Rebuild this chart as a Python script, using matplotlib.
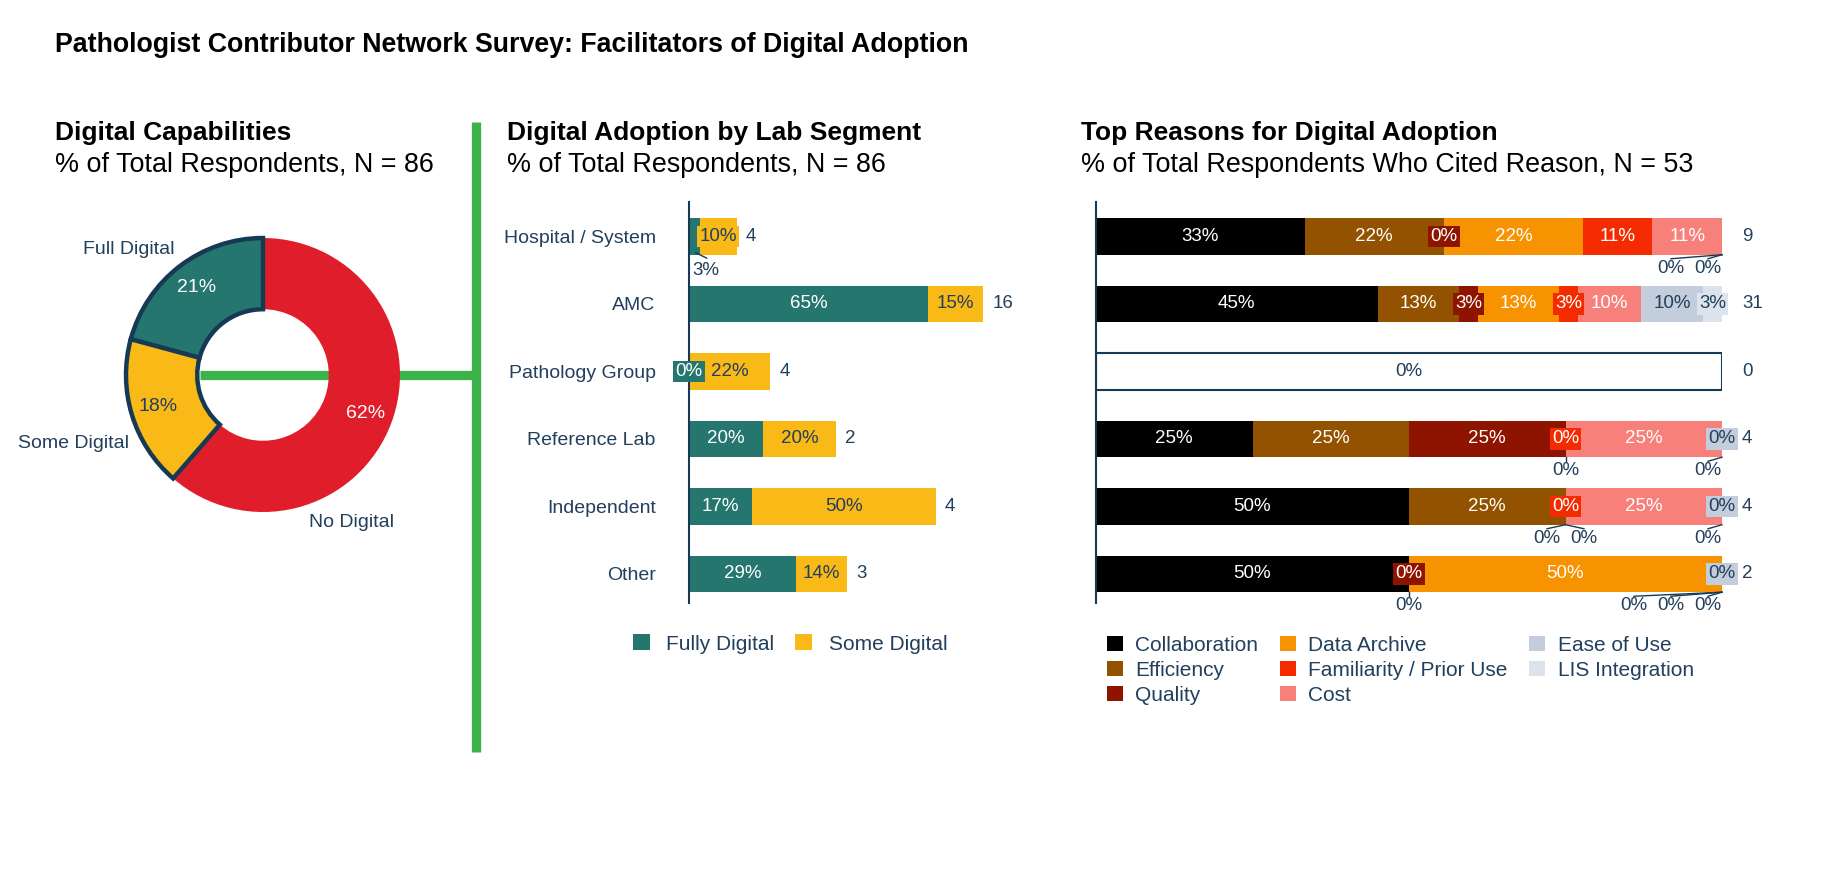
import matplotlib
matplotlib.use("Agg")
import matplotlib.pyplot as plt
from matplotlib.patches import Patch
import numpy as np

plt.rcParams['font.family'] = ['Liberation Sans', 'DejaVu Sans']

# ---------------- data ----------------
main_title = "Pathologist Contributor Network Survey: Facilitators of Digital Adoption"
pie_title = "Digital Capabilities"
pie_subtitle = "% of Total Respondents, N = 86"
bar_title = "Digital Adoption by Lab Segment"
bar_subtitle = "% of Total Respondents, N = 86"
reason_title = "Top Reasons for Digital Adoption"
reason_subtitle = "% of Total Respondents Who Cited Reason, N = 53"

capability_labels = ["Full Digital", "Some Digital", "No Digital"]
capability_pct = [21, 18, 62]

segments = ["Hospital / System", "AMC", "Pathology Group", "Reference Lab", "Independent", "Other"]
fully_digital = [3, 65, 0, 20, 17, 29]
some_digital = [10, 15, 22, 20, 50, 14]
segment_n = [4, 16, 4, 2, 4, 3]
adoption_legend = ["Fully Digital", "Some Digital"]

reasons = ["Collaboration", "Efficiency", "Quality", "Data Archive",
           "Familiarity / Prior Use", "Cost", "Ease of Use", "LIS Integration"]
collaboration = [33, 45, 0, 25, 50, 50]
efficiency = [22, 13, 0, 25, 25, 0]
quality = [0, 3, 0, 25, 0, 0]
data_archive = [22, 13, 0, 0, 0, 50]
familiarity = [11, 3, 0, 0, 0, 0]
cost = [11, 10, 0, 25, 25, 0]
ease_of_use = [0, 10, 0, 0, 0, 0]
lis_integration = [0, 3, 0, 0, 0, 0]
reason_n = [9, 31, 0, 4, 4, 2]

# ---------------- style ----------------
W, H, DPI = 1828, 876, 100
TEXT = '#223f5c'
NAVY = '#173a54'
TEAL = '#24766e'
YELLOW = '#f9b916'
RED = '#e01e2b'
GREEN = '#3cb24a'
reason_colors = ['#000000', '#935200', '#8e1400', '#f79200', '#f42b00',
                 '#f8807a', '#c3cddc', '#dde3ec']
reason_text_colors = ['white'] * 6 + [TEXT, TEXT]
# zero-value labels kept inside the bar (boxed); others are pushed below
boxed_zeros = {(0, 2), (3, 4), (3, 6), (4, 4), (4, 6), (5, 2), (5, 6)}

LBL = 13.5
fig = plt.figure(figsize=(W / DPI, H / DPI), dpi=DPI)
fig.patch.set_facecolor('white')


def px_axes(x0, y0, x1, y1):
    return fig.add_axes([x0 / W, 1 - y1 / H, (x1 - x0) / W, (y1 - y0) / H])


def ftext(x, y, s, **kw):
    fig.text(x / W, 1 - y / H, s, **kw)


# ---------------- titles ----------------
ftext(55, 45, main_title, fontsize=19.3, fontweight='bold', va='center', color='black')
for x0, t, st in [(55, pie_title, pie_subtitle), (507, bar_title, bar_subtitle),
                  (1081, reason_title, reason_subtitle)]:
    ftext(x0, 133, t, fontsize=19, fontweight='bold', va='center', color='black')
    ftext(x0, 165, st, fontsize=19.4, va='center', color='black')

# green separator
fig.add_artist(plt.Line2D([476 / W, 476 / W], [1 - 122 / H, 1 - 752 / H],
                          transform=fig.transFigure, color=GREEN, lw=6.7,
                          solid_capstyle='butt'))

# ---------------- donut ----------------
R = 137
ax1 = px_axes(263 - 1.8 * R, 375 - 1.8 * R, 263 + 1.8 * R, 375 + 1.8 * R)
wedges, _ = ax1.pie(capability_pct, colors=[TEAL, YELLOW, RED], startangle=90,
                    counterclock=True, radius=1,
                    wedgeprops=dict(width=0.52, linewidth=0))
ax1.set_xlim(-1.8, 1.8)
ax1.set_ylim(-1.8, 1.8)
ax1.set_aspect('equal')
ax1.axis('off')
ax1.plot([-0.46, 1.56], [0, 0], color=GREEN, lw=6.7, zorder=0, clip_on=False,
         solid_capstyle='butt')
for k, w in enumerate(wedges):
    if k < 2:
        w.set_edgecolor(NAVY)
        w.set_linewidth(3.2)
        w.set_joinstyle('miter')
        w.set_zorder(3)
    else:
        w.set_zorder(2)
pct_colors = ['white', TEXT, 'white']
for w, v, c in zip(wedges, capability_pct, pct_colors):
    th = np.deg2rad((w.theta1 + w.theta2) / 2)
    ax1.text(0.80 * np.cos(th), 0.80 * np.sin(th), f"{v}%", ha='center', va='center',
             color=c, fontsize=14, zorder=5)
label_angle = [137, 200, 301]
label_dist = [1.34, 1.47, 1.26]
for lab, a, d in zip(capability_labels, label_angle, label_dist):
    th = np.deg2rad(a)
    ax1.text(d * np.cos(th), d * np.sin(th), lab, ha='center', va='center',
             color=TEXT, fontsize=14)

# ---------------- adoption by segment ----------------
BAR_H = 0.54
ax2 = px_axes(689, 202, 1057, 603)
ax2.set_xlim(0, 100)
ax2.set_ylim(5.43, -0.511)
y = np.arange(len(segments))
ax2.barh(y, fully_digital, height=BAR_H, color=TEAL, linewidth=0)
ax2.barh(y, some_digital, left=fully_digital, height=BAR_H, color=YELLOW, linewidth=0)
for i in range(len(segments)):
    f, s = fully_digital[i], some_digital[i]
    # fully digital label
    if f == 0:
        ax2.text(0, i, "0%", ha='center', va='center', color='white', fontsize=LBL,
                 bbox=dict(boxstyle='square,pad=0.12', fc=TEAL, ec='none'), clip_on=False)
    elif f < 5:
        ax2.text(f + 1.5, i + 0.5, f"{f}%", ha='center', va='center', color=TEXT,
                 fontsize=LBL, clip_on=False)
        ax2.plot([f * 0.6, f + 1.8], [i + 0.24, i + 0.32], color=NAVY, lw=1, clip_on=False)
    else:
        ax2.text(f / 2, i, f"{f}%", ha='center', va='center', color='white', fontsize=LBL)
    # some digital label
    if s * 3.68 < 45:
        ax2.text(f + s / 2, i, f"{s}%", ha='center', va='center', color=TEXT, fontsize=LBL,
                 bbox=dict(boxstyle='square,pad=0.12', fc=YELLOW, ec='none'))
    else:
        ax2.text(f + s / 2, i, f"{s}%", ha='center', va='center', color=TEXT, fontsize=LBL)
    ax2.text(f + s + 2.5, i, str(segment_n[i]), ha='left', va='center', color=TEXT,
             fontsize=LBL)
ax2.set_yticks(y)
ax2.set_yticklabels(segments)
ax2.tick_params(axis='y', length=0, pad=24, labelsize=14, labelcolor=TEXT)
ax2.set_xticks([])
for sp in ['top', 'right', 'bottom']:
    ax2.spines[sp].set_visible(False)
ax2.spines['left'].set_color(NAVY)
ax2.spines['left'].set_linewidth(1.5)

fig.legend(handles=[Patch(fc=TEAL), Patch(fc=YELLOW)], labels=adoption_legend,
           loc='center', bbox_to_anchor=(790 / W, 1 - 644 / H), ncol=2, frameon=False,
           fontsize=15, handlelength=0.8, handleheight=0.8, handletextpad=0.8,
           columnspacing=1.0, labelcolor=TEXT)

# ---------------- top reasons ----------------
ax3 = px_axes(1096, 202, 1722, 603)
ax3.set_xlim(0, 100)
ax3.set_ylim(5.43, -0.511)
PX = 626 / 100.0
reason_values = [collaboration, efficiency, quality, data_archive, familiarity, cost,
                 ease_of_use, lis_integration]
for i in range(len(segments)):
    vals = [rv[i] for rv in reason_values]
    total = sum(vals)
    ax3.text(100 + 20 / PX, i, str(reason_n[i]), ha='left', va='center', color=TEXT,
             fontsize=LBL)
    if total == 0:
        ax3.barh(i, 100, height=BAR_H, color='white', edgecolor=NAVY, linewidth=1.5)
        ax3.text(50, i, "0%", ha='center', va='center', color=TEXT, fontsize=LBL)
        continue
    left = 0.0
    below = {}
    for j, v in enumerate(vals):
        w = v / total * 100
        ax3.barh(i, w, left=left, height=BAR_H, color=reason_colors[j], linewidth=0)
        if v == 0:
            if (i, j) in boxed_zeros:
                ax3.text(left, i, "0%", ha='center', va='center', color=reason_text_colors[j],
                         fontsize=LBL, zorder=5, clip_on=False,
                         bbox=dict(boxstyle='square,pad=0.12', fc=reason_colors[j], ec='none'))
            else:
                below.setdefault(round(left, 2), []).append(j)
        else:
            kw = {}
            if w * PX < 45:
                kw['bbox'] = dict(boxstyle='square,pad=0.12', fc=reason_colors[j], ec='none')
            ax3.text(left + w / 2, i, f"{v}%", ha='center', va='center',
                     color=reason_text_colors[j], fontsize=LBL, zorder=5, **kw)
        left += w
    for b, js in below.items():
        k = len(js)
        if b > 99.9:
            offs = [-14 - 37 * (k - 1 - m) for m in range(k)]
        else:
            offs = [(m - (k - 1) / 2) * 37 for m in range(k)]
        for off in offs:
            lx = b + off / PX
            ax3.text(lx, i + 0.47, "0%", ha='center', va='center', color=TEXT,
                     fontsize=LBL, clip_on=False)
            ax3.plot([b, lx], [i + BAR_H / 2, i + 0.33], color=NAVY, lw=1, clip_on=False)
ax3.set_xticks([])
ax3.set_yticks([])
for sp in ['top', 'right', 'bottom']:
    ax3.spines[sp].set_visible(False)
ax3.spines['left'].set_color(NAVY)
ax3.spines['left'].set_linewidth(1.5)

fig.legend(handles=[Patch(fc=c) for c in reason_colors], labels=reasons,
           loc='upper left', bbox_to_anchor=(1107 / W, 1 - 636 / H), ncol=3, frameon=False,
           fontsize=15, handlelength=0.75, handleheight=0.75, handletextpad=0.6,
           columnspacing=1.05, labelspacing=0.28, borderaxespad=0, borderpad=0,
           labelcolor=TEXT)

fig.savefig("out.png", dpi=DPI, facecolor='white')
